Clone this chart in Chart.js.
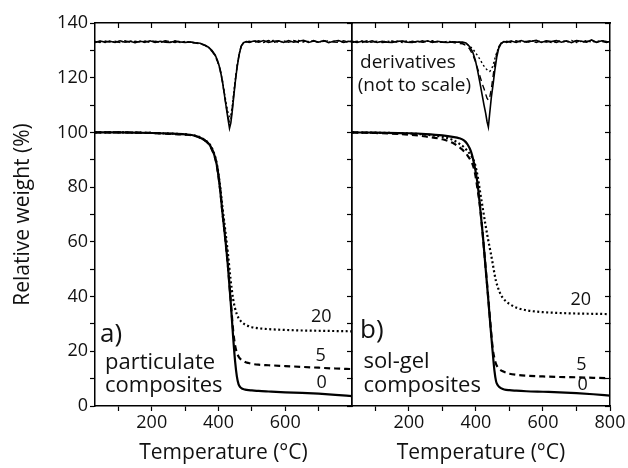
<!DOCTYPE html>
<html lang="en">
<head>
  <meta charset="UTF-8">
  <title>TGA of particulate and sol-gel composites</title>
  <script src="https://cdn.jsdelivr.net/npm/chart.js"></script>
  <style>
    body {
      margin: 0;
      background: #fff;
    }
    .figure {
      position: relative;
      width: 628px;
      height: 468px;
      overflow: hidden;
    }
    .figure canvas {
      position: absolute;
      top: 0;
    }
    #panel-a { left: 0; }
    #panel-b { left: 344px; }
  </style>
</head>
<body>
  <div class="figure">
    <canvas id="panel-a" width="360" height="468"></canvas>
    <canvas id="panel-b" width="284" height="468"></canvas>
  </div>

  <script>
    // temperatures (°C) for the weight-loss curves
    const tgaTemps = [30, 100, 200, 250, 300, 330, 350, 365, 375, 385, 392, 398, 405, 412, 420, 428, 436, 444, 450, 455, 460, 465, 470, 480, 490, 500, 520, 550, 600, 650, 700, 750, 800];

    // a) particulate composites, relative weight (%) for 0, 5 and 20 wt% filler
    const partW0 = [100, 100, 99.8, 99.6, 99.3, 98.8, 97.8, 96.6, 95.2, 92.6, 89.8, 85.8, 79, 70.5, 61.5, 51.5, 39, 25, 16, 10.8, 8.0, 6.9, 6.4, 6.0, 5.8, 5.7, 5.5, 5.3, 5.0, 4.8, 4.5, 4.1, 3.6];
    const partW5 = [100, 100, 99.8, 99.5, 99.2, 98.7, 97.7, 96.5, 95.0, 92.4, 89.6, 85.6, 79, 70.5, 61.5, 51.5, 39.5, 27.5, 22, 19.5, 18.1, 17.3, 16.8, 16.1, 15.7, 15.4, 15.1, 14.9, 14.6, 14.3, 14.0, 13.7, 13.5];
    const partW20 = [100, 100, 99.8, 99.6, 99.3, 98.8, 97.9, 96.7, 95.4, 92.9, 90.2, 86.4, 80.2, 72.5, 64.5, 56, 46.5, 39, 35.5, 33.5, 32.2, 31.3, 30.6, 29.7, 29.2, 28.8, 28.4, 28.1, 27.8, 27.6, 27.5, 27.4, 27.3];

    // b) sol-gel composites
    const solW0 = [100, 99.9, 99.7, 99.4, 98.9, 98.4, 97.9, 97.0, 95.6, 93.1, 89.9, 86.3, 81.0, 73.0, 63.0, 51.5, 40.0, 28.0, 19.5, 13.0, 9.0, 7.6, 6.9, 6.2, 5.9, 5.8, 5.6, 5.4, 5.2, 5.0, 4.7, 4.3, 3.8];
    const solW5 = [100, 99.8, 99.2, 98.5, 97.5, 96.2, 94.6, 93.0, 91.5, 89.6, 87.6, 84.5, 79.0, 73.0, 63.0, 51.8, 40.5, 28.8, 21.0, 17.5, 15.3, 14.2, 13.5, 12.7, 12.2, 11.8, 11.4, 11.1, 10.8, 10.6, 10.5, 10.3, 10.2];
    const solW20 = [100, 99.9, 99.6, 99.2, 98.4, 97.3, 95.9, 94.5, 93.2, 91.6, 90.2, 88.0, 84.0, 78.5, 72.5, 66.5, 61.0, 56.0, 52.0, 48.5, 45.5, 43.5, 41.8, 39.5, 38.2, 37.3, 36.0, 35.0, 34.3, 34.0, 33.8, 33.7, 33.6];

    // temperatures for the derivative traces (offset to ~133, arbitrary scale)
    const dtgTemps = [30, 45, 60, 75, 90, 105, 120, 135, 150, 165, 180, 195, 210, 225, 240, 255, 270, 285, 300, 315,
      330, 345, 360,
      370, 380, 390, 398, 405, 412, 418, 424, 429, 433, 437, 441, 446, 451, 456, 462, 468, 475, 483,
      492, 505,
      520, 535, 550, 565, 580, 595, 610, 625, 640, 655, 670, 685, 700, 715, 730, 745, 760, 775, 790,
      800];

    const partD0 = [132.9, 133.4, 133.0, 133.3, 132.9, 133.5, 133.0, 133.3, 132.8, 133.3, 133.0, 133.5, 132.9, 133.3, 133.0, 132.9, 133.4, 133.1, 132.9, 133.1,
      132.8, 132.6, 131.9,
      131.2, 130.0, 128.3, 126.0, 123.0, 118.5, 113.5, 108.5, 104.5, 101.5, 103.5, 107.5, 113.5, 119.2, 124.0, 128.5, 131.5, 132.8, 133.2,
      132.9, 133.4,
      133.0, 133.6, 132.9, 133.3, 133.5, 132.9, 133.6, 133.0, 133.3, 133.7, 132.9, 133.4, 133.0, 133.6, 132.8, 133.3, 133.6, 132.9, 133.3,
      133.1];
    const partD5 = [133.3, 132.9, 133.4, 133.0, 133.3, 132.9, 133.5, 132.9, 133.3, 133.0, 133.4, 132.9, 133.3, 133.0, 133.5, 133.2, 132.9, 133.4, 133.0, 132.9,
      132.7, 132.4, 131.7,
      131.0, 129.7, 127.9, 125.6, 122.6, 118.3, 113.6, 109.0, 105.5, 103.5, 104.8, 108.4, 114.2, 119.6, 124.3, 128.7, 131.6, 132.9, 133.1,
      133.3, 132.9,
      133.5, 133.0, 133.6, 132.9, 133.3, 133.5, 133.0, 133.6, 132.9, 133.4, 133.2, 133.6, 132.9, 133.3, 133.5, 133.0, 132.9, 133.5, 133.0,
      133.3];
    const partD20 = [133.0, 133.3, 132.9, 133.4, 133.0, 133.3, 133.0, 133.5, 132.9, 133.3, 132.9, 133.3, 133.4, 132.9, 133.3, 133.0, 133.4, 132.9, 133.3, 133.0,
      132.8, 132.5, 131.8,
      131.1, 129.9, 128.1, 125.9, 123.0, 118.9, 114.3, 110.0, 106.9, 105.5, 106.2, 109.4, 114.8, 120.0, 124.5, 128.8, 131.6, 132.8, 133.2,
      132.9, 133.5,
      133.3, 132.9, 133.5, 133.6, 133.0, 133.3, 132.9, 133.5, 133.6, 133.0, 133.3, 133.5, 132.9, 133.6, 133.0, 133.3, 133.5, 132.9, 133.3,
      133.4];

    const solD0 = [133.3, 132.9, 133.3, 133.0, 133.5, 132.9, 133.3, 133.0, 132.9, 133.3, 133.4, 133.0, 132.9, 133.3, 133.0, 133.5, 132.9, 133.3, 133.0, 132.9,
      133.1, 133.0, 133.0,
      132.7, 131.5, 129.5, 126.5, 122.5, 118.0, 114.0, 110.0, 107.0, 104.0, 102.0, 107.0, 113.0, 117.5, 122.5, 127.5, 130.8, 132.5, 133.2,
      133.0, 133.4,
      132.9, 133.6, 133.0, 133.3, 133.7, 132.9, 133.5, 133.2, 133.6, 133.0, 133.5, 132.8, 133.6, 133.3, 133.0, 133.8, 132.9, 133.5, 133.2,
      133.1];
    const solD5 = [133.0, 133.3, 132.9, 133.5, 133.0, 133.3, 132.9, 133.0, 133.4, 132.9, 133.3, 133.0, 133.3, 132.9, 133.5, 133.0, 133.3, 132.9, 133.1, 132.9,
      132.9, 132.6, 132.4,
      131.8, 130.7, 128.5, 126.0, 123.3, 120.5, 118.0, 116.0, 114.0, 112.5, 111.8, 112.8, 116.0, 120.5, 125.0, 128.8, 131.3, 132.7, 133.1,
      133.3, 132.9,
      133.5, 133.0, 133.3, 133.6, 132.9, 133.5, 133.0, 133.3, 132.9, 133.6, 133.3, 133.0, 133.5, 132.9, 133.3, 133.6, 133.0, 133.3, 132.9,
      133.2];
    const solD20 = [132.9, 133.1, 133.4, 133.2, 132.9, 133.3, 133.0, 133.4, 133.0, 133.3, 132.9, 133.5, 133.0, 133.3, 132.9, 133.3, 133.5, 133.0, 132.9, 133.3,
      133.1, 133.0, 132.9,
      132.5, 131.7, 130.6, 129.3, 128.0, 126.7, 125.4, 124.2, 123.4, 122.9, 122.4, 122.3, 123.0, 124.6, 126.8, 129.2, 131.2, 132.5, 133.1,
      132.9, 133.3,
      133.0, 133.5, 132.9, 133.3, 133.6, 133.0, 133.3, 132.9, 133.5, 133.3, 133.0, 133.6, 132.9, 133.3, 133.5, 133.0, 133.3, 133.6, 133.0,
      132.9];

    // tick positions
    const xTicksA = [100, 200, 300, 400, 500, 600, 700];
    const xTicksB = [100, 200, 300, 400, 500, 600, 700, 800];
    const yTicks = [0, 10, 20, 30, 40, 50, 60, 70, 80, 90, 100, 110, 120, 130, 140];

    const INK = '#111';
    const FONT = "'Open Sans', sans-serif";
    Chart.defaults.font.family = FONT;
    Chart.defaults.color = INK;

    const DASH = { solid: [], dashed: [6, 4], dotted: [2, 2.5] };

    function series(temps, vals, dash, width, smooth) {
      return {
        data: temps.map((t, i) => ({ x: t, y: vals[i] })),
        borderColor: '#000',
        borderWidth: width,
        borderDash: dash,
        pointRadius: 0,
        fill: false,
        tension: 0,
        cubicInterpolationMode: smooth ? 'monotone' : 'default'
      };
    }

    const setTicks = list => scale => { scale.ticks = list.map(v => ({ value: v })); };
    const frame = { display: true, color: '#000', width: 1.5 };
    // bottom/left marks point out of the plot, top/right marks point in
    const outward = { drawOnChartArea: false, tickLength: 5, tickColor: '#000', tickWidth: 1.2 };
    const inward = { drawOnChartArea: false, tickLength: -5, tickColor: '#000', tickWidth: 1.2 };

    // text written inside a panel, placed in data coordinates
    function notes(items) {
      return {
        id: 'notes',
        afterDatasetsDraw(chart) {
          const { ctx, scales: { x, y } } = chart;
          ctx.save();
          ctx.fillStyle = INK;
          ctx.textBaseline = 'alphabetic';
          items.forEach(n => {
            ctx.font = n.size + 'px ' + FONT;
            ctx.textAlign = n.align || 'left';
            ctx.fillText(n.text, x.getPixelForValue(n.x), y.getPixelForValue(n.y));
          });
          ctx.restore();
        }
      };
    }

    function panelScales(xTicks, withYLabels) {
      return {
        x: {
          type: 'linear', min: 30, max: 800, position: 'bottom',
          afterBuildTicks: setTicks(xTicks),
          afterFit: s => { s.height = 62; },
          ticks: {
            callback: v => (v % 200 === 0 ? v : ''),
            font: { size: 18 }, padding: 1, maxRotation: 0, autoSkip: false
          },
          grid: outward,
          border: frame,
          title: { display: true, text: 'Temperature (°C)', font: { size: 21 }, padding: { top: 0, bottom: 2 } }
        },
        xTop: {
          type: 'linear', min: 30, max: 800, position: 'top',
          afterBuildTicks: setTicks(xTicksA),
          afterFit: s => { s.height = 0; },
          ticks: { display: false },
          grid: inward,
          border: frame
        },
        y: {
          min: 0, max: 140, position: 'left',
          afterBuildTicks: setTicks(yTicks),
          afterFit: s => { s.width = withYLabels ? 95 : 0; },
          ticks: {
            display: withYLabels,
            callback: v => (v % 20 === 0 ? v : ''),
            font: { size: 18 }, padding: 2, autoSkip: false
          },
          grid: { ...outward, drawTicks: withYLabels },
          border: frame,
          title: { display: withYLabels, text: 'Relative weight (%)', font: { size: 21 }, padding: { top: 10, bottom: 0 } }
        },
        yRight: {
          min: 0, max: 140, position: 'right',
          afterBuildTicks: setTicks(yTicks),
          afterFit: s => { s.width = 0; },
          ticks: { display: false },
          grid: inward,
          border: frame
        }
      };
    }

    function panel(id, xTicks, withYLabels, padding, tga, dtg, labels) {
      const datasets = [
        series(dtgTemps, dtg[0], DASH.solid, 1.6, false),
        series(dtgTemps, dtg[1], DASH.dashed, 1.4, false),
        series(dtgTemps, dtg[2], DASH.dotted, 1.4, false),
        series(tgaTemps, tga[0], DASH.solid, 2.2, true),
        series(tgaTemps, tga[1], DASH.dashed, 2.2, true),
        series(tgaTemps, tga[2], DASH.dotted, 2.2, true)
      ];
      return new Chart(document.getElementById(id), {
        type: 'line',
        data: { datasets },
        options: {
          responsive: false,
          animation: false,
          events: [],
          layout: { padding },
          scales: panelScales(xTicks, withYLabels),
          plugins: { legend: { display: false }, tooltip: { enabled: false } }
        },
        plugins: [notes(labels)]
      });
    }

    panel('panel-a', xTicksA, true, { top: 23, right: 8, bottom: 0, left: 0 },
      [partW0, partW5, partW20], [partD0, partD5, partD20],
      [
        { text: 'a)', x: 45, y: 23.5, size: 26 },
        { text: 'particulate', x: 60, y: 13.4, size: 22 },
        { text: 'composites', x: 60, y: 5.2, size: 22 },
        { text: '20', x: 708, y: 30.8, size: 18, align: 'center' },
        { text: '5', x: 706, y: 16.6, size: 18, align: 'center' },
        { text: '0', x: 709, y: 6.5, size: 18, align: 'center' }
      ]);

    panel('panel-b', xTicksB, false, { top: 23, right: 18, bottom: 0, left: 8 },
      [solW0, solW5, solW20], [solD0, solD5, solD20],
      [
        { text: 'derivatives', x: 54, y: 123.4, size: 19 },
        { text: '(not to scale)', x: 47, y: 115.2, size: 19 },
        { text: 'b)', x: 54, y: 24.7, size: 26 },
        { text: 'sol-gel', x: 64, y: 13.8, size: 22 },
        { text: 'composites', x: 64, y: 5.2, size: 22 },
        { text: '20', x: 713, y: 36.9, size: 18, align: 'center' },
        { text: '5', x: 715, y: 13.2, size: 18, align: 'center' },
        { text: '0', x: 718, y: 5.8, size: 18, align: 'center' }
      ]);
  </script>
</body>
</html>
